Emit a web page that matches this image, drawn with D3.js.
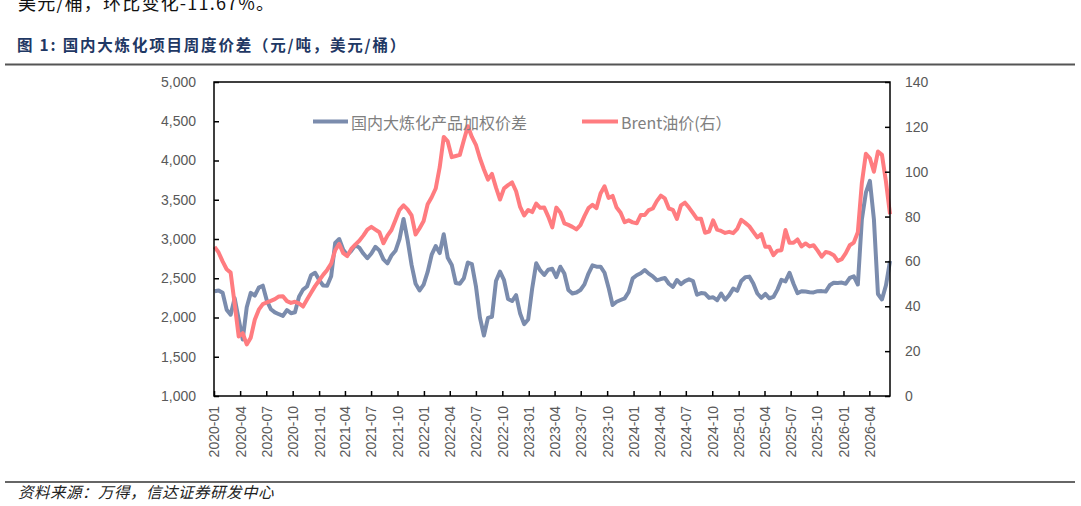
<!DOCTYPE html>
<html>
<head>
<meta charset="utf-8">
<script src="https://cdn.jsdelivr.net/npm/d3@7"></script>
<style>
  body { margin: 0; background: #fff; }
  svg { display: block; }
  text { font-family: "Liberation Sans", Arial, "Noto Sans CJK SC", sans-serif; }
</style>
</head>
<body>
<svg id="chart" width="1081" height="506"></svg>
<script>
// weekly data sampled every two weeks, first Friday of 2020 to mid June 2026
var axisStart = new Date(2020, 0, 1)
var startDate = new Date(2020, 0, 3)
var endDate = new Date(2026, 5, 12)
var stepWeeks = 2
var dates = d3.timeFriday.range(startDate, d3.timeDay.offset(endDate, 1), stepWeeks)

// 国内大炼化产品加权价差, 元/吨 (left axis)
var spread = [
    2335, 2345, 2315, 2100, 2035, 2245, 1975, 1720, 2130, 2314,
    2280, 2380, 2405, 2215, 2105, 2065, 2042, 2021, 2095, 2055,
    2067, 2265, 2355, 2395, 2540, 2570, 2480, 2408, 2405, 2525,
    2950, 3000, 2865, 2795, 2850, 2920, 2890, 2815, 2755, 2815,
    2900, 2855, 2740, 2690, 2790, 2850, 3000, 3255, 2990, 2670,
    2430, 2345, 2420, 2580, 2800, 2910, 2820, 3060, 2760, 2670,
    2440, 2430, 2500, 2700, 2680, 2400, 2000, 1770, 1995, 2010,
    2465, 2584, 2475, 2235, 2210, 2285, 2050, 1916, 1975, 2370,
    2690, 2600, 2542, 2610, 2620, 2515, 2647, 2560, 2350, 2305,
    2318, 2350, 2422, 2560, 2665, 2648, 2647, 2570, 2380, 2160,
    2201, 2223, 2243, 2325, 2499, 2538, 2563, 2605, 2559, 2524,
    2474, 2490, 2503, 2430, 2390, 2478, 2424, 2464, 2486, 2465,
    2290, 2311, 2305, 2250, 2258, 2220, 2305, 2226, 2285, 2368,
    2340, 2464, 2512, 2521, 2434, 2306, 2250, 2300, 2245, 2262,
    2355, 2480, 2460, 2570, 2430, 2310, 2335, 2330, 2323, 2320,
    2335, 2336, 2330, 2410, 2442, 2440, 2445, 2430, 2505, 2525,
    2420, 3250, 3590, 3740, 3250, 2300, 2230, 2410, 2720
]

// Brent油价, 美元/桶 (right axis)
var brent = [
    66.5, 64, 60, 56.5, 55, 41, 26.5, 28, 23, 26,
    34, 38.5, 41, 41.7, 42.4, 43.2, 44.4, 44.5, 42.3, 41.5,
    42, 41.3, 39.9, 43, 46, 49, 51.5, 54, 56.2, 59,
    65, 67.8, 63.7, 62.4, 65.6, 67.5, 69.2, 71.5, 74.2, 75.4,
    74.2, 73, 68.1, 71.5, 74, 78.5, 83, 85, 83.2, 80.5,
    72, 74.8, 78, 85.5, 88.6, 92.5, 102, 115.5, 113.5, 106.5,
    107, 107.5, 114, 120.3, 115.5, 112, 106, 101, 96.5, 99,
    92.9, 87.6, 92.6, 94, 95.2, 91.3, 84.3, 80.5, 82.9, 82,
    85.8, 83.9, 84, 80, 75.2, 84, 81.8, 77, 76.3, 75.4,
    74.3, 76.2, 80.2, 83.8, 85.2, 83.8, 90.3, 93.5, 88.3, 89.2,
    84, 81.7, 77.5, 78.3, 77.4, 77, 80.7, 80.7, 82.9, 83.6,
    86.9, 89.3, 88.1, 83.6, 83, 79, 85, 86.2, 84, 81.5,
    79, 79, 72.8, 73.3, 78.3, 74.2, 73.6, 72.7, 73.2, 72.6,
    74.5, 78.5, 77.2, 75.7, 73.2, 70.7, 72.2, 66.5, 66.5, 62.8,
    64.8, 65, 74, 68.3, 68.3, 69.8, 66.7, 68, 66.7, 67.2,
    64.8, 62.1, 64.2, 63.8, 62.8, 60.2, 61, 63.7, 67.2, 68.4,
    73, 95, 108, 106, 100, 109, 107.5, 95.5, 81
]

var leftTicks = [1000, 1500, 2000, 2500, 3000, 3500, 4000, 4500, 5000]
var rightTicks = [0, 20, 40, 60, 80, 100, 120, 140]
var xTicks = d3.timeMonth.every(3).range(axisStart, endDate)

var seriesNames = ["国内大炼化产品加权价差", "Brent油价(右）"]
var titleText = "图 1:  国内大炼化项目周度价差（元/吨，美元/桶）"
var topText = "美元/桶，环比变化-11.67%。"
var sourceText = "资料来源：万得，信达证券研发中心"

var blue = "#7b8cad"
var red = "#ff7c80"
var gray = "#595959"

var plotLeft = 214, plotRight = 890, plotTop = 82, plotBottom = 396

var svg = d3.select("#chart")

var x = d3.scaleTime().domain([axisStart, endDate]).range([plotLeft, plotRight])
var yLeft = d3.scaleLinear().domain([1000, 5000]).range([plotBottom, plotTop])
var yRight = d3.scaleLinear().domain([0, 140]).range([plotBottom, plotTop])

// header text, the first line is the tail of the previous paragraph
svg.append("text")
    .attr("x", 18).attr("y", 10)
    .style("font-family", "'Noto Sans CJK SC', sans-serif")
    .style("font-size", "18px")
    .style("letter-spacing", "1.2px")
    .attr("fill", "#111")
    .text(topText)

svg.append("text")
    .attr("x", 17).attr("y", 51)
    .style("font-family", "'Noto Sans CJK SC', sans-serif")
    .style("font-size", "15.5px")
    .style("font-weight", "bold")
    .style("letter-spacing", "1.8px")
    .attr("fill", "#1f3864")
    .text(titleText)

svg.append("line")
    .attr("x1", 5).attr("x2", 1075).attr("y1", 64.5).attr("y2", 64.5)
    .attr("stroke", "#555").attr("stroke-width", 2)

svg.append("line")
    .attr("x1", 5).attr("x2", 1075).attr("y1", 482).attr("y2", 482)
    .attr("stroke", "#333").attr("stroke-width", 1.5)

svg.append("text")
    .attr("x", 18).attr("y", 498)
    .style("font-family", "'Noto Sans CJK SC', sans-serif")
    .style("font-size", "15.5px")
    .style("letter-spacing", "0.5px")
    .style("font-style", "italic")
    .attr("fill", "#222")
    .text(sourceText)

// series
var lineLeft = d3.line()
    .x(function(d, i) { return x(dates[i]) })
    .y(function(d) { return yLeft(d) })

var lineRight = d3.line()
    .x(function(d, i) { return x(dates[i]) })
    .y(function(d) { return yRight(d) })

svg.append("path")
    .datum(spread)
    .attr("d", lineLeft)
    .attr("fill", "none")
    .attr("stroke", blue)
    .attr("stroke-width", 4)
    .attr("stroke-linejoin", "round")

svg.append("path")
    .datum(brent)
    .attr("d", lineRight)
    .attr("fill", "none")
    .attr("stroke", red)
    .attr("stroke-width", 4)
    .attr("stroke-linejoin", "round")

// axes, ticks point into the plot
var axL = svg.append("g")
    .attr("transform", "translate(" + plotLeft + ",0)")
    .call(d3.axisLeft(yLeft).tickValues(leftTicks).tickFormat(d3.format(","))
        .tickSizeInner(-5).tickSizeOuter(0).tickPadding(18))

var axR = svg.append("g")
    .attr("transform", "translate(" + plotRight + ",0)")
    .call(d3.axisRight(yRight).tickValues(rightTicks)
        .tickSizeInner(-5).tickSizeOuter(0).tickPadding(15))

var axB = svg.append("g")
    .attr("transform", "translate(0," + plotBottom + ")")
    .call(d3.axisBottom(x).tickValues(xTicks).tickFormat(d3.timeFormat("%Y-%m"))
        .tickSizeInner(-5).tickSizeOuter(0))

axB.selectAll("text")
    .attr("transform", "rotate(-90)")
    .attr("x", -10).attr("y", 0).attr("dy", "0.35em")
    .style("text-anchor", "end")

;[axL, axR, axB].forEach(function(g) {
    g.select(".domain").remove()
    g.selectAll("line").attr("stroke", "#000").attr("stroke-width", 1.5)
    g.selectAll("text")
        .attr("fill", gray)
        .style("font-size", "14px")
        .style("font-family", "'Liberation Sans', Arial, sans-serif")
})

svg.append("rect")
    .attr("x", plotLeft).attr("y", plotTop)
    .attr("width", plotRight - plotLeft).attr("height", plotBottom - plotTop)
    .attr("fill", "none").attr("stroke", "#000").attr("stroke-width", 1.5)

// legend
var legend = [
    {name: seriesNames[0], color: blue, x1: 313, x2: 348},
    {name: seriesNames[1], color: red, x1: 582, x2: 618}
]

var lg = svg.selectAll(".legend").data(legend).enter().append("g")

lg.append("line")
    .attr("x1", function(d) { return d.x1 })
    .attr("x2", function(d) { return d.x2 })
    .attr("y1", 121.5).attr("y2", 121.5)
    .attr("stroke", function(d) { return d.color })
    .attr("stroke-width", 4)

lg.append("text")
    .attr("x", function(d) { return d.x2 + 3 })
    .attr("y", 122)
    .attr("dominant-baseline", "central")
    .style("font-family", "'Noto Sans CJK SC', sans-serif")
    .style("font-size", "16px")
    .attr("fill", "#808080")
    .text(function(d) { return d.name })
</script>
</body>
</html>
